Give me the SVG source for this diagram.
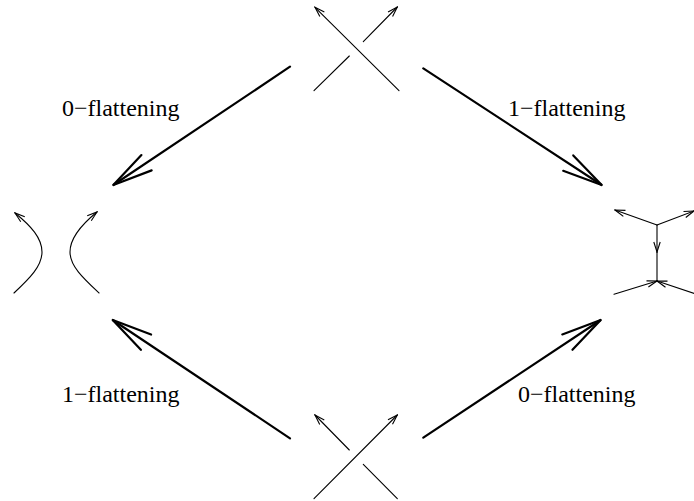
<svg xmlns="http://www.w3.org/2000/svg" width="694" height="501" viewBox="0 0 694 501">
<style>
.thin{fill:none;stroke:#000;stroke-width:1.1;stroke-linecap:round}
.thick{fill:none;stroke:#000;stroke-width:2.2;stroke-linecap:round}
.lbl{font-family:"Liberation Serif","Times New Roman",serif;font-size:24px;fill:#000}
</style>
<defs>
<marker id="sa" viewBox="-12 -5 13 10" markerWidth="13" markerHeight="10" refX="0" refY="0" orient="auto" markerUnits="userSpaceOnUse">
<path d="M-10,-3.2 L0,0 L-10,3.2" fill="none" stroke="#000" stroke-width="1.1"/>
</marker>
<marker id="ba" viewBox="-44 -12 46 24" markerWidth="46" markerHeight="24" refX="0" refY="0" orient="auto" markerUnits="userSpaceOnUse">
<path d="M-40,-9.2 L0,0 L-40,9.2" fill="none" stroke="#000" stroke-width="2.2" stroke-linecap="round" stroke-linejoin="miter"/>
</marker>
</defs>
<rect width="694" height="501" fill="#fff"/>
<g id="crossing-top">
<line class="thin" x1="399" y1="90.7" x2="315" y2="7.3" marker-end="url(#sa)"/>
<line class="thin" x1="314" y1="90.7" x2="349.3" y2="56"/>
<line class="thin" x1="363.3" y1="41.7" x2="397.3" y2="7" marker-end="url(#sa)"/>
</g>
<g id="crossing-bottom">
<line class="thin" x1="314" y1="498.7" x2="397.3" y2="415" marker-end="url(#sa)"/>
<line class="thin" x1="397.3" y1="498.7" x2="363.3" y2="464.3"/>
<line class="thin" x1="349.3" y1="450" x2="315" y2="415" marker-end="url(#sa)"/>
</g>
<g id="smoothing-0">
<path class="thin" d="M14,293 C30,278 42,266 42,252 C42,238 31,226 15,213" marker-end="url(#sa)"/>
<path class="thin" d="M99,293 C83,278 70,266 70,252 C70,238 81,225 97,212" marker-end="url(#sa)"/>
</g>
<g id="smoothing-1">
<line class="thin" x1="657" y1="225" x2="615" y2="210" marker-end="url(#sa)"/>
<line class="thin" x1="657" y1="225" x2="694" y2="211" marker-end="url(#sa)"/>
<line class="thin" x1="657" y1="225" x2="657" y2="252" marker-end="url(#sa)"/>
<line class="thin" x1="657" y1="252" x2="657" y2="281"/>
<line class="thin" x1="614" y1="294.3" x2="657" y2="281" marker-end="url(#sa)"/>
<line class="thin" x1="697" y1="294.3" x2="657" y2="281" marker-end="url(#sa)"/>
</g>
<g id="connectors">
<line class="thick" x1="290" y1="66.7" x2="113.3" y2="185" marker-end="url(#ba)"/>
<line class="thick" x1="423.3" y1="68.3" x2="601.7" y2="185" marker-end="url(#ba)"/>
<line class="thick" x1="290" y1="438.3" x2="112.7" y2="320" marker-end="url(#ba)"/>
<line class="thick" x1="423.3" y1="437.7" x2="600.7" y2="320" marker-end="url(#ba)"/>
<text class="lbl" x="62" y="116">0−flattening</text>
<text class="lbl" x="508" y="116">1−flattening</text>
<text class="lbl" x="62" y="402">1−flattening</text>
<text class="lbl" x="518" y="402">0−flattening</text>
</g>
</svg>
